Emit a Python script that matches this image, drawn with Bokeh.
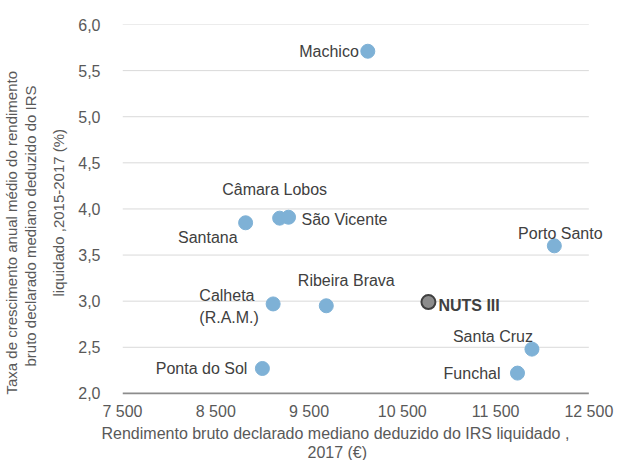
from bokeh.plotting import figure
from bokeh.models import ColumnDataSource, FixedTicker, LabelSet, Title
from bokeh.core.properties import value
from bokeh.embed import file_html
from bokeh.resources import INLINE

# Data
municipios = ["Machico", "Câmara Lobos", "São Vicente", "Santana", "Porto Santo",
              "Ribeira Brava", "Calheta\n(R.A.M.)", "Santa Cruz", "Funchal", "Ponta do Sol"]
rendimento = [10130, 9185, 9280, 8820, 12130, 9685, 9115, 11890, 11735, 9000]
crescimento = [5.71, 3.90, 3.91, 3.85, 3.60, 2.95, 2.97, 2.48, 2.22, 2.27]

nuts_nome = ["NUTS III"]
nuts_rendimento = [10780]
nuts_crescimento = [2.99]

x_ticks = [7500, 8500, 9500, 10500, 11500, 12500]
x_tick_labels = ["7 500", "8 500", "9 500", "10 500", "11 500", "12 500"]
y_ticks = [2.0, 2.5, 3.0, 3.5, 4.0, 4.5, 5.0, 5.5, 6.0]
y_tick_labels = ["2,0", "2,5", "3,0", "3,5", "4,0", "4,5", "5,0", "5,5", "6,0"]

x_title_lines = ["Rendimento bruto declarado mediano deduzido do IRS liquidado ,", "2017 (€)"]
y_title_lines = ["Taxa de crescimento anual médio do rendimento",
                 "bruto declarado mediano deduzido do IRS",
                 "liquidado ,2015-2017 (%)"]

# Label placement (styles, screen px offsets; y_offset positive = up)
label_align = ["right", "center", "left", "right", "center", "center", "center", "center", "right", "right"]
label_dx = [-9, -5, 13, -8, 6, 20, -44, -39, -17, -15]
label_dy = [0, 29, -2, -15, 12, 25, -3, 13, 0, 0]
# axis-title line offsets along the frame edge (px)
x_title_offsets = [-21, 185]
y_title_offsets = [0, 28, 98]

FONT = "Liberation Sans"
TXT = "#404040"
AX = "#595959"

# extra room right of the last tick so that outside labels are not clipped
x_lo, x_hi = x_ticks[0], x_ticks[-1]
pad = 0.04 * (x_hi - x_lo)

p = figure(width=615, height=460, output_backend="svg", toolbar_location=None,
           x_range=(x_lo, x_hi + pad), y_range=(y_ticks[0] - 0.012, y_ticks[-1]),
           min_border_left=10, min_border_right=8, min_border_top=24, min_border_bottom=10)
p.outline_line_color = None
p.background_fill_color = "white"
p.border_fill_color = "white"

# horizontal gridlines, limited to the tick span
gsrc = ColumnDataSource(dict(y=y_ticks[1:], x0=[x_lo] * (len(y_ticks) - 1), x1=[x_hi] * (len(y_ticks) - 1)))
p.segment(x0="x0", x1="x1", y0="y", y1="y", source=gsrc, line_color="#D9D9D9", line_width=1)
# x axis line
p.segment(x0=[x_lo], x1=[x_hi], y0=[y_ticks[0]], y1=[y_ticks[0]], line_color="#8C8C8C", line_width=2)

src = ColumnDataSource(dict(x=rendimento, y=crescimento, name=municipios,
                            align=label_align, dx=label_dx, dy=label_dy))
p.scatter("x", "y", source=src, size=14, fill_color="#7EB1D6", line_color="#7EB1D6")
labels = LabelSet(x="x", y="y", text="name", source=src, x_offset="dx", y_offset="dy",
                  text_align="align", text_baseline="middle", text_font=value(FONT),
                  text_font_size="16px", text_color=TXT, text_line_height=1.3)
p.add_layout(labels)

nsrc = ColumnDataSource(dict(x=nuts_rendimento, y=nuts_crescimento, name=nuts_nome))
p.scatter("x", "y", source=nsrc, size=14, fill_color="#8C8C8C", line_color="#404040", line_width=2)
nlabels = LabelSet(x="x", y="y", text="name", source=nsrc, x_offset=10, y_offset=-3,
                   text_align="left", text_baseline="middle", text_font=value(FONT),
                   text_font_size="16px", text_font_style="bold", text_color=TXT)
p.add_layout(nlabels)

# Axes
p.xaxis.ticker = FixedTicker(ticks=x_ticks)
p.xaxis.major_label_overrides = dict(zip(x_ticks, x_tick_labels))
p.yaxis.ticker = FixedTicker(ticks=y_ticks)
p.yaxis.major_label_overrides = dict(zip(y_ticks, y_tick_labels))

for ax in (p.xaxis, p.yaxis):
    ax.major_tick_line_color = None
    ax.minor_tick_line_color = None
    ax.axis_line_color = None
    ax.major_label_text_font = FONT
    ax.major_label_text_font_size = "16px"
    ax.major_label_text_color = AX

p.xaxis.major_label_standoff = 2
p.yaxis.major_label_standoff = 16

# Axis titles: one title panel per line, stacked outward from the frame
for txt, off in zip(x_title_lines, x_title_offsets):
    p.add_layout(Title(text=txt, align="left", offset=off, standoff=0,
                       text_font=FONT, text_font_size="16px", text_font_style="normal",
                       text_color=AX), "below")
for i, (txt, off) in reversed(list(enumerate(zip(y_title_lines, y_title_offsets)))):
    p.add_layout(Title(text=txt, align="left", offset=off, standoff=(18 if i == 2 else 0),
                       text_font=FONT, text_font_size="15px", text_font_style="normal",
                       text_color=AX), "left")

p.xgrid.grid_line_color = None
p.ygrid.grid_line_color = None

open("out.html", "w").write(file_html(p, INLINE))
